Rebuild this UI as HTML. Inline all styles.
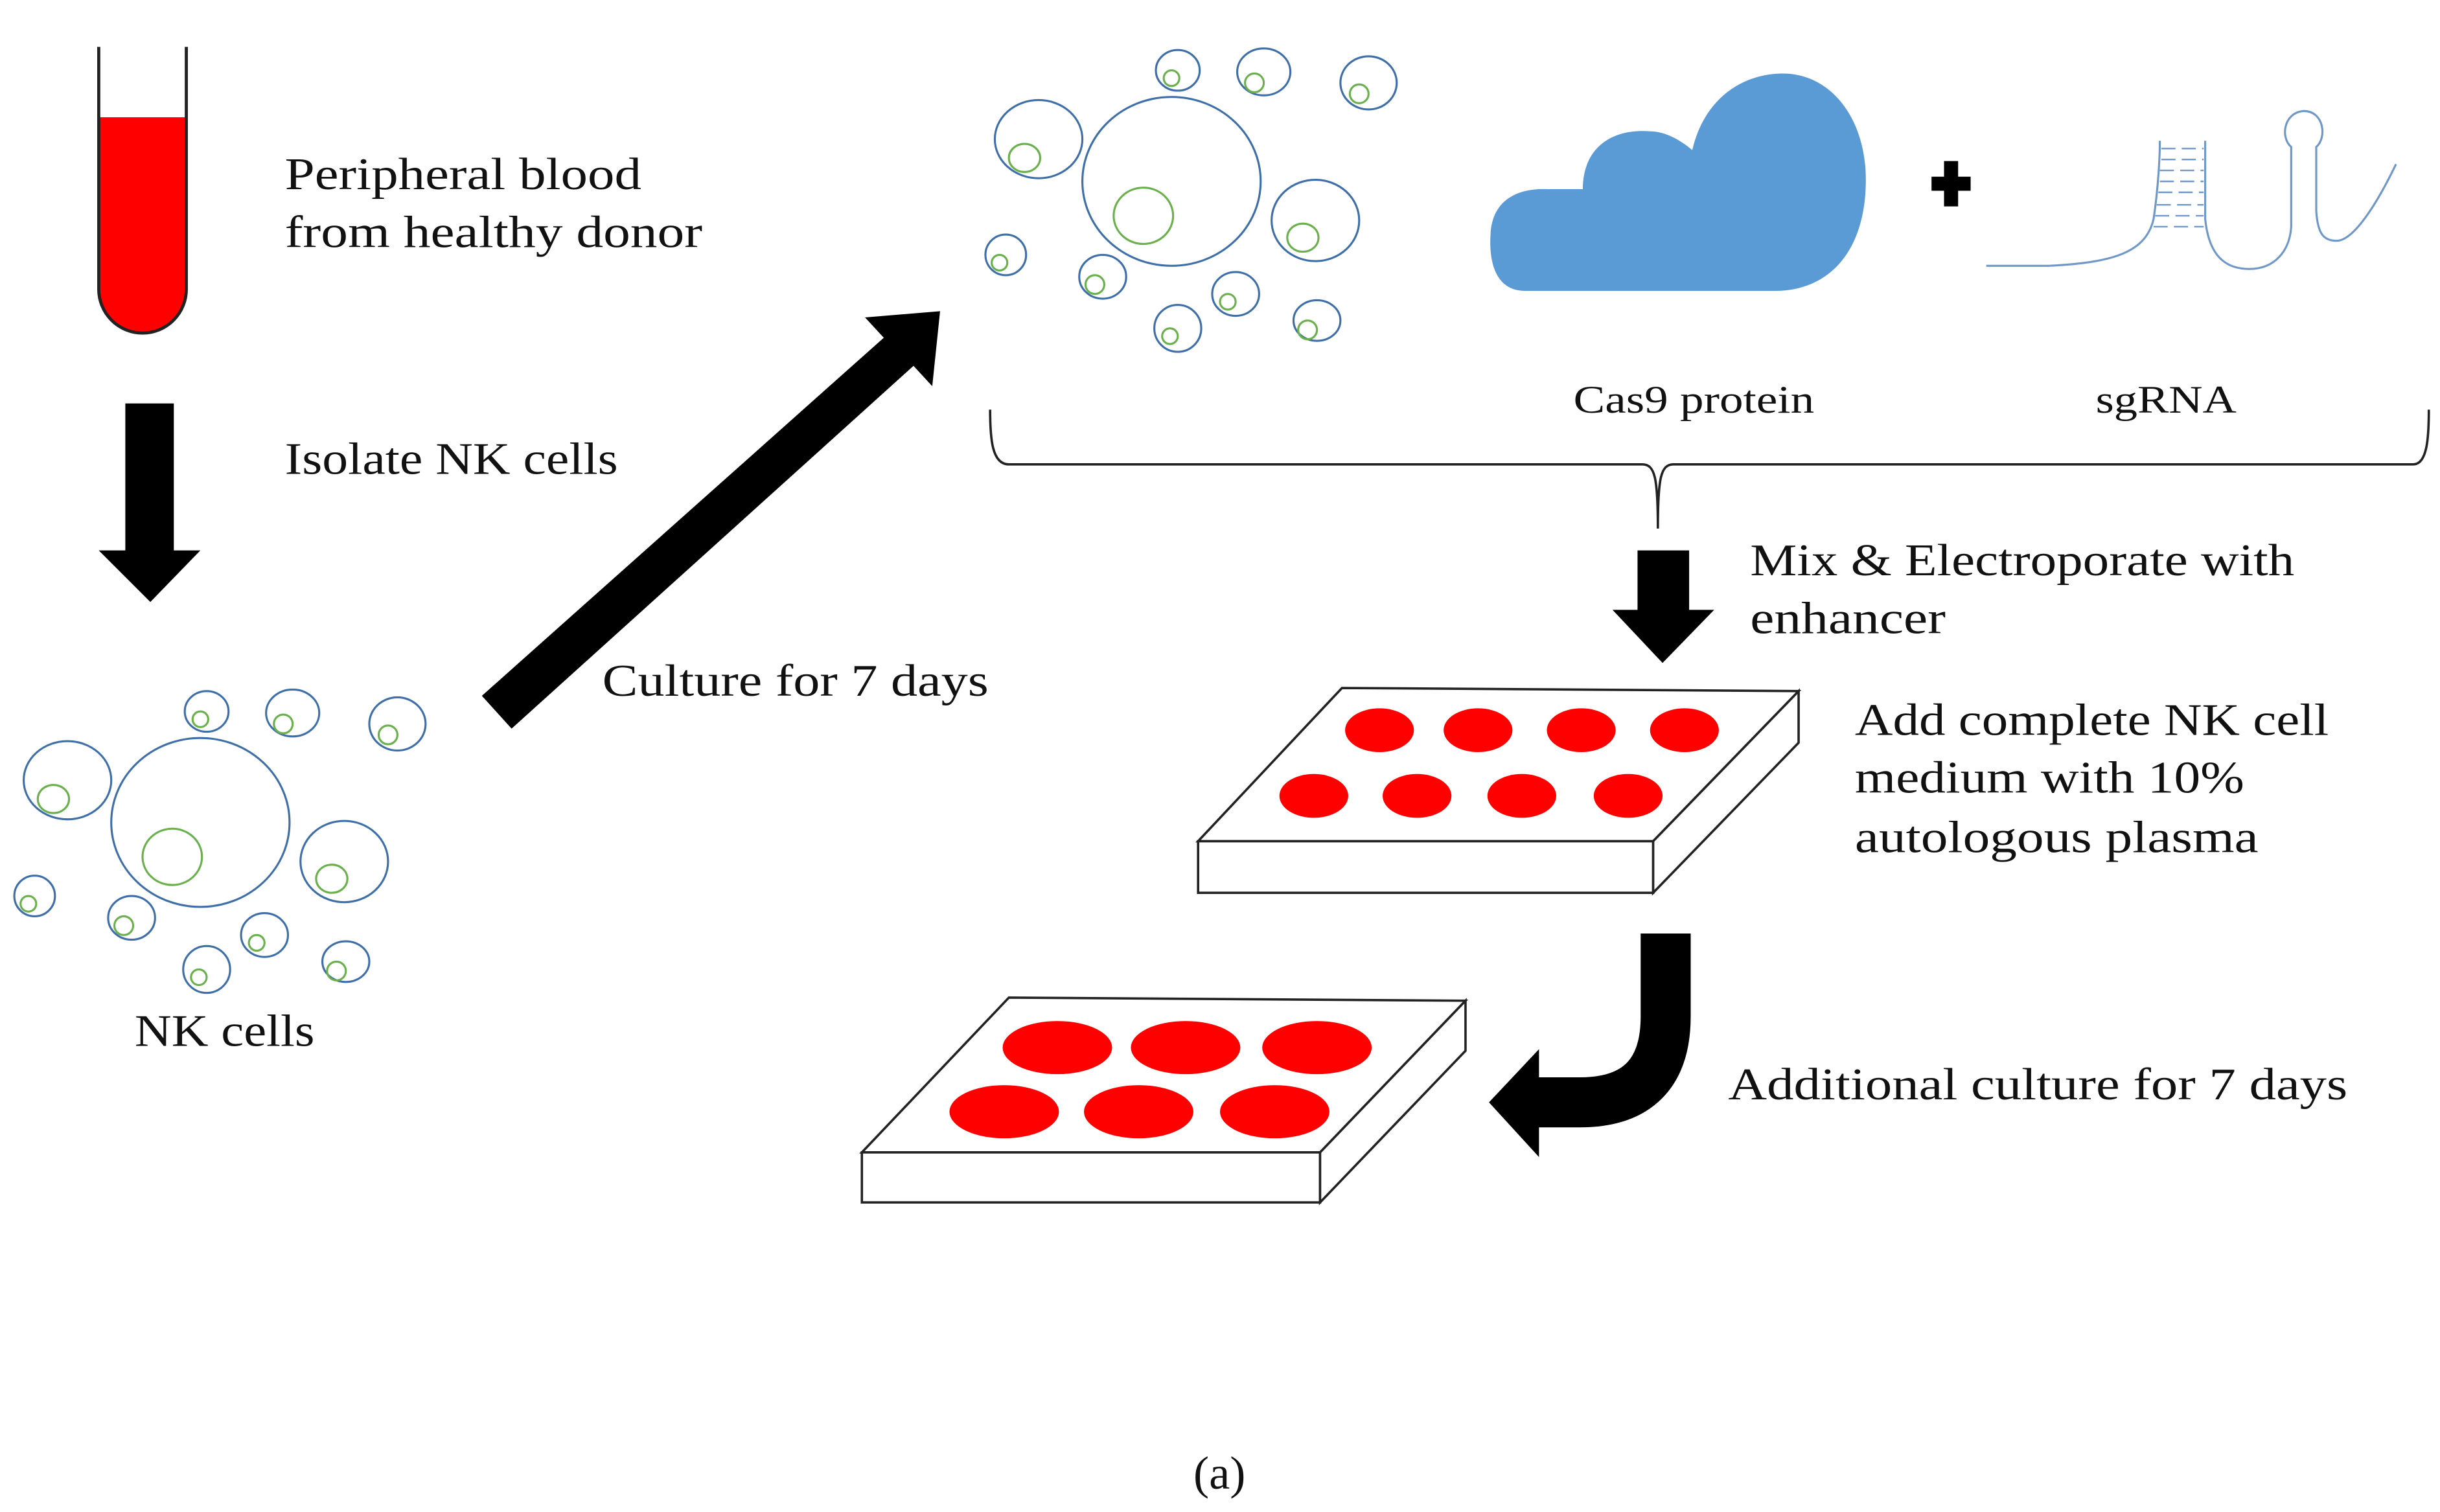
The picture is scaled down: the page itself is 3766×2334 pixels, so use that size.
<!DOCTYPE html>
<html><head><meta charset="utf-8"><style>
html,body{margin:0;padding:0;background:#fff;}
svg{display:block;}
text{font-family:"Liberation Serif",serif;fill:#111;}
</style></head><body>
<svg width="3766" height="2334" viewBox="0 0 1560 967" xmlns="http://www.w3.org/2000/svg">
<defs>
<g id="cells" fill="none" stroke-width="1.3">
  <g stroke="#3f6fa8">
    <ellipse cx="128" cy="526" rx="57" ry="54"/>
    <ellipse cx="43" cy="499" rx="28" ry="25"/>
    <ellipse cx="132" cy="455" rx="14" ry="13"/>
    <ellipse cx="187" cy="456" rx="17" ry="15"/>
    <ellipse cx="254" cy="463" rx="18" ry="17"/>
    <ellipse cx="220" cy="551" rx="28" ry="26"/>
    <ellipse cx="22" cy="573" rx="13" ry="13"/>
    <ellipse cx="84" cy="587" rx="15" ry="14"/>
    <ellipse cx="169" cy="598" rx="15" ry="14"/>
    <ellipse cx="132" cy="620" rx="15" ry="15"/>
    <ellipse cx="221" cy="615" rx="15" ry="13"/>
  </g>
  <g stroke="#6ab04c">
    <ellipse cx="110" cy="548" rx="19" ry="18"/>
    <ellipse cx="34" cy="511" rx="10" ry="9"/>
    <ellipse cx="128" cy="460" rx="5" ry="5"/>
    <ellipse cx="181" cy="463" rx="6" ry="6"/>
    <ellipse cx="248" cy="470" rx="6" ry="6"/>
    <ellipse cx="212" cy="562" rx="10" ry="9"/>
    <ellipse cx="18" cy="578" rx="5" ry="5"/>
    <ellipse cx="79" cy="592" rx="6" ry="6"/>
    <ellipse cx="164" cy="603" rx="5" ry="5"/>
    <ellipse cx="127" cy="625" rx="5" ry="5"/>
    <ellipse cx="215" cy="621" rx="6" ry="6"/>
  </g>
</g>
</defs>

<path d="M63,75 V185 A28,28 0 0 0 119,185 V75 Z" fill="#ff0000"/>
<path d="M63,30 V185 A28,28 0 0 0 119,185 V30" fill="none" stroke="#222" stroke-width="2"/>
<text x="182" y="121" font-size="29" textLength="228" lengthAdjust="spacingAndGlyphs">Peripheral blood</text>
<text x="182" y="158" font-size="29" textLength="267" lengthAdjust="spacingAndGlyphs">from healthy donor</text>

<polygon points="80,258 111,258 111,352 128,352 96,385 63,352 80,352" fill="#000"/>
<text x="182" y="303" font-size="29" textLength="213" lengthAdjust="spacingAndGlyphs">Isolate NK cells</text>

<use href="#cells"/>
<text x="86" y="669" font-size="29" textLength="115" lengthAdjust="spacingAndGlyphs">NK cells</text>

<polygon points="308,445 565,216 553,203 601,199 596,247 584,234 327,466" fill="#000"/>
<text x="385" y="445" font-size="29" textLength="247" lengthAdjust="spacingAndGlyphs">Culture for 7 days</text>

<use href="#cells" transform="translate(621,-410)"/>

<path d="M975,186 C955,186 952,165 953,150 C954,128 970,120 990,121 L1012,121 C1012,95 1030,82 1055,84 C1065,84 1075,90 1082,96 C1090,62 1115,47 1140,47 C1170,47 1193,75 1193,115 C1193,160 1170,186 1135,186 Z" fill="#5b9bd5"/>

<rect x="1235" y="113" width="25" height="9" fill="#000"/>
<rect x="1243" y="103" width="9" height="29" fill="#000"/>

<g fill="none" stroke="#6f98c8" stroke-width="1.3">
  <path d="M1270,170 L1310,170 C1350,168 1372,162 1377,140 C1380,120 1381,100 1381,90"/>
  <path d="M1410,90 V140 C1412,160 1420,172 1438,172 C1455,172 1464,160 1465,145 V94 C1458,88 1460,72 1473,71 C1486,71 1488,88 1481,94 V135 C1482,150 1486,154 1494,154 C1505,154 1520,130 1532,105"/>
  <g stroke-width="1">
    <path d="M1382,95 H1409 M1382,102 H1409 M1381,109 H1409 M1381,116 H1409 M1380,123 H1409 M1379,131 H1409 M1378,138 H1409 M1377,145 H1409" stroke-dasharray="9,4"/>
  </g>
</g>
<text x="1006" y="264" font-size="25" textLength="154" lengthAdjust="spacingAndGlyphs">Cas9 protein</text>
<text x="1340" y="264" font-size="25" textLength="90" lengthAdjust="spacingAndGlyphs">sgRNA</text>

<path d="M633,262 C633,280 634,297 645,297 L1050,297 C1058,297 1060,305 1060,338 C1060,305 1062,297 1070,297 L1543,297 C1552,297 1553,280 1553,262" fill="none" stroke="#222" stroke-width="1.5"/>

<polygon points="1047,352 1080,352 1080,390 1096,390 1063,424 1031,390 1047,390" fill="#000"/>
<text x="1119" y="368" font-size="29" textLength="348" lengthAdjust="spacingAndGlyphs">Mix &amp; Electroporate with</text>
<text x="1119" y="405" font-size="29" textLength="125" lengthAdjust="spacingAndGlyphs">enhancer</text>

<g stroke="#222" stroke-width="1.5" fill="#fff">
  <polygon points="766,538 858,440 1150,442 1057,538"/>
  <rect x="766" y="538" width="291" height="33"/>
  <polygon points="1057,538 1150,442 1150,475 1057,571"/>
</g>
<g fill="#ff0000">
  <ellipse cx="882" cy="467" rx="22" ry="14"/><ellipse cx="945" cy="467" rx="22" ry="14"/>
  <ellipse cx="1011" cy="467" rx="22" ry="14"/><ellipse cx="1077" cy="467" rx="22" ry="14"/>
  <ellipse cx="840" cy="509" rx="22" ry="14"/><ellipse cx="906" cy="509" rx="22" ry="14"/>
  <ellipse cx="973" cy="509" rx="22" ry="14"/><ellipse cx="1041" cy="509" rx="22" ry="14"/>
</g>
<text x="1186" y="470" font-size="29" textLength="303" lengthAdjust="spacingAndGlyphs">Add complete NK cell</text>
<text x="1186" y="507" font-size="29" textLength="249" lengthAdjust="spacingAndGlyphs">medium with 10%</text>
<text x="1186" y="545" font-size="29" textLength="258" lengthAdjust="spacingAndGlyphs">autologous plasma</text>

<path d="M1065,597 V650 Q1065,705 1010,705 H982" fill="none" stroke="#000" stroke-width="32"/>
<polygon points="984,671 952,705 984,740" fill="#000"/>
<text x="1105" y="703" font-size="29" textLength="396" lengthAdjust="spacingAndGlyphs">Additional culture for 7 days</text>

<g stroke="#222" stroke-width="1.5" fill="#fff">
  <polygon points="551,737 645,638 937,640 844,737"/>
  <rect x="551" y="737" width="293" height="32"/>
  <polygon points="844,737 937,640 937,672 844,769"/>
</g>
<g fill="#ff0000">
  <ellipse cx="676" cy="670" rx="35" ry="17"/><ellipse cx="758" cy="670" rx="35" ry="17"/>
  <ellipse cx="842" cy="670" rx="35" ry="17"/>
  <ellipse cx="642" cy="711" rx="35" ry="17"/><ellipse cx="728" cy="711" rx="35" ry="17"/>
  <ellipse cx="815" cy="711" rx="35" ry="17"/>
</g>

<text x="763" y="952" font-size="30">(a)</text>
</svg>
</body></html>
